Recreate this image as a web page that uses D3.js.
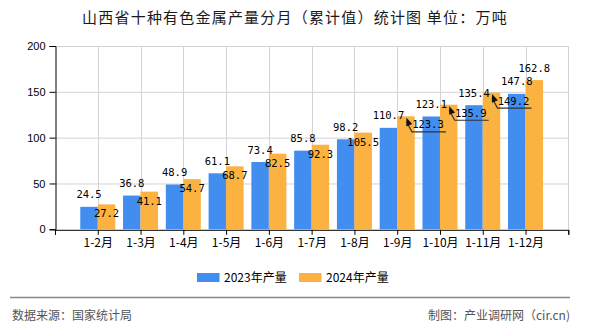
<!DOCTYPE html>
<html><head><meta charset="utf-8">
<script src="https://cdn.jsdelivr.net/npm/d3@7"></script>
<style>
body{margin:0;background:#fff;}
svg{display:block;}
</style></head>
<body><svg id="c" width="590" height="330"></svg>
<script>
const categories = ["1-2月","1-3月","1-4月","1-5月","1-6月","1-7月","1-8月","1-9月","1-10月","1-11月","1-12月"];
const values2023 = [24.5,36.8,48.9,61.1,73.4,85.8,98.2,110.7,123.1,135.4,147.8];
const values2024 = [27.2,41.1,54.7,68.7,82.5,92.3,105.5,123.3,135.9,149.2,162.8];
const yTicks = [0,50,100,150,200];
const seriesNames = ["2023年产量","2024年产量"];
const colors = ["#428DF0","#FBB240"];
const titleText = "山西省十种有色金属产量分月（累计值）统计图 单位：万吨";
const sourceText = "数据来源：国家统计局";
const creditText = "制图：产业调研网（cir.cn)";

const svg = d3.select("#c");
const L=55, R=568.3, T=46, B=229.3;
const x = d3.scaleLinear().domain([0,12]).range([L,R]);
const y = d3.scaleLinear().domain([0,200]).range([B,T]);
const bw = 17.5;
const monoFont = "'DejaVu Sans Mono', monospace";
const sansFont = "'Liberation Sans', Arial, sans-serif";
const cjk = "'Noto Sans CJK SC', sans-serif";

// title
svg.append("text").attr("x",295).attr("y",23).attr("text-anchor","middle")
  .style("font-family",cjk).style("font-size","15px").style("letter-spacing","1.2px")
  .attr("fill","#1a1a1a").text(titleText);

// grid
const g = svg.append("g");
g.selectAll(".hg").data(yTicks.filter(d=>d>0)).join("line")
  .attr("x1",L).attr("x2",R).attr("y1",d=>y(d)+0.5).attr("y2",d=>y(d)+0.5)
  .attr("stroke","#d3d3d3").attr("stroke-width",1);
g.selectAll(".vg").data(d3.range(1,13)).join("line")
  .attr("x1",d=>Math.round(x(d))+0.5).attr("x2",d=>Math.round(x(d))+0.5).attr("y1",T).attr("y2",B)
  .attr("stroke","#d3d3d3").attr("stroke-width",1);

// bars
const idx = d3.range(categories.length);
g.selectAll(".b1").data(idx).join("rect")
  .attr("x",i=>x(i+1)-bw).attr("width",bw)
  .attr("y",i=>y(values2023[i])).attr("height",i=>B-y(values2023[i]))
  .attr("fill",colors[0]);
g.selectAll(".b2").data(idx).join("rect")
  .attr("x",i=>x(i+1)).attr("width",bw)
  .attr("y",i=>y(values2024[i])).attr("height",i=>B-y(values2024[i]))
  .attr("fill",colors[1]);

// axes
const yAxis = d3.axisLeft(y).tickValues(yTicks).tickSize(6).tickPadding(4);
const ya = svg.append("g").attr("transform",`translate(${L+0.5},0)`).call(yAxis);
ya.select(".domain").attr("stroke","#000");
ya.selectAll("line").attr("stroke","#000");
ya.selectAll("text").style("font-family",sansFont).style("font-size","11px").attr("fill","#000");

const xAxis = d3.axisBottom(x).tickValues(d3.range(0,13)).tickSize(5).tickPadding(4)
  .tickFormat(d=> (d>=1 && d<=11) ? categories[d-1] : "");
const xa = svg.append("g").attr("transform",`translate(0,${B+0.5})`).call(xAxis);
xa.select(".domain").attr("stroke","#000");
xa.selectAll("line").attr("stroke","#000");
xa.selectAll("text").style("font-family",cjk).style("font-size","12px").attr("fill","#000");

// value labels
const lab = svg.append("g").style("font-family",monoFont).style("font-size","10.5px").attr("fill","#000");
lab.selectAll(".l1").data(idx).join("text")
  .attr("x",i=>x(i+1)-bw/2).attr("y",i=>y(values2023[i])-12.5+4)
  .attr("text-anchor","middle").text(i=>values2023[i].toFixed(1));

const leader = new Set([7,8,9]);
idx.forEach(i=>{
  const cx = x(i+1)+bw/2, top = y(values2024[i]);
  if(i===10){
    lab.append("text").attr("x",cx).attr("y",top-12+4).attr("text-anchor","middle").text(values2024[i].toFixed(1));
  } else if(leader.has(i)){
    lab.append("text").attr("x",cx+22).attr("y",top+8+4).attr("text-anchor","middle").text(values2024[i].toFixed(1));
    const tip=[cx+0.5,top+1.5], corner=[cx+6,top+15.5], end=[cx+40,top+15.5];
    svg.append("path").attr("d",`M${tip[0]},${tip[1]+4}L${corner[0]},${corner[1]}L${end[0]},${end[1]}`)
      .attr("fill","none").attr("stroke","#333").attr("stroke-width",1.2);
    // arrowhead
    const ang = Math.atan2(corner[1]-tip[1], corner[0]-tip[0]);
    const al=8, aw=3.2;
    const bx = tip[0]+al*Math.cos(ang), by = tip[1]+al*Math.sin(ang);
    const px = -Math.sin(ang)*aw, py = Math.cos(ang)*aw;
    svg.append("path").attr("d",`M${tip[0]},${tip[1]}L${bx+px},${by+py}L${bx-px},${by-py}Z`).attr("fill","#111");
  } else {
    lab.append("text").attr("x",cx).attr("y",top+9+4).attr("text-anchor","middle").text(values2024[i].toFixed(1));
  }
});

// legend
const leg = svg.append("g");
const legX = [197,299];
seriesNames.forEach((n,k)=>{
  leg.append("rect").attr("x",legX[k]).attr("y",273).attr("width",22.5).attr("height",9).attr("fill",colors[k]);
  leg.append("text").attr("x",legX[k]+27).attr("y",281.5).style("font-family",cjk).style("font-size","12px")
    .attr("fill","#000").text(n);
});

// footer
svg.append("line").attr("x1",10).attr("x2",570).attr("y1",297.5).attr("y2",297.5).attr("stroke","#888").attr("stroke-width",1.3);
svg.append("text").attr("x",12).attr("y",320).style("font-family",cjk).style("font-size","12px").attr("fill","#555").text(sourceText);
svg.append("text").attr("x",570).attr("y",320).attr("text-anchor","end").style("font-family",cjk).style("font-size","12px").attr("fill","#555").text(creditText);
</script></body></html>
